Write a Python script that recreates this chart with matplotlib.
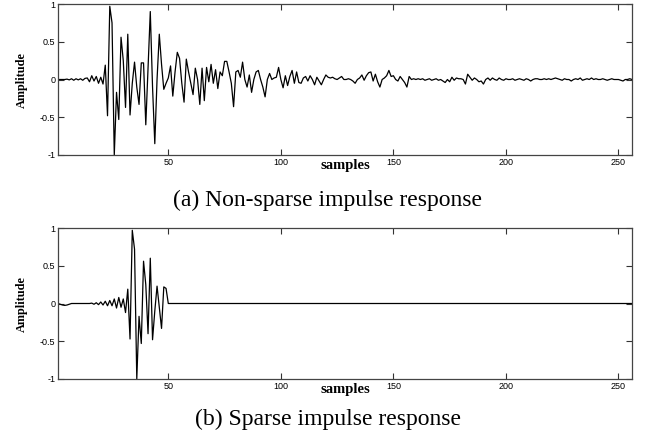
import numpy as np
import matplotlib
matplotlib.use("Agg")
from matplotlib import pyplot as plt

# non-sparse impulse response, samples 1..256
nonsparse_1_50 = [
    0.0, 0.0, 0.0, 0.0, 0.005, -0.005, 0.01, -0.01, 0.01, -0.005,
    0.01, -0.01, 0.015, 0.02, -0.03, 0.05, -0.02, 0.04, -0.05, 0.03,
    -0.06, 0.19, -0.48, 0.97, 0.75, -1.0, -0.17, -0.53, 0.56, 0.25,
    -0.37, 0.6, -0.47, -0.05, 0.23, -0.1, -0.33, 0.22, 0.22, -0.6,
    0.15, 0.9, -0.1, -0.85, 0.0, 0.6, 0.2, -0.13, -0.05, 0.02,
]
nonsparse_51_100 = [
    0.18, -0.22, 0.1, 0.36, 0.28, -0.05, -0.3, 0.27, 0.1, -0.05,
    -0.2, 0.15, 0.0, -0.33, 0.15, -0.28, 0.16, -0.03, 0.2, -0.05,
    0.13, -0.12, 0.1, 0.05, 0.24, 0.24, 0.1, -0.05, -0.36, 0.1,
    0.12, 0.03, 0.23, 0.0, -0.1, 0.06, -0.17, 0.0, 0.1, 0.12,
    0.0, -0.1, -0.23, 0.0, 0.08, 0.0, 0.02, 0.03, 0.16, 0.0,
]
nonsparse_101_150 = [
    -0.11, 0.05, -0.08, 0.04, 0.12, -0.05, 0.1, -0.04, -0.05, 0.02,
    0.04, -0.02, 0.05, 0.0, -0.07, 0.03, -0.02, -0.07, 0.0, 0.06,
    0.03, 0.02, 0.03, 0.01, 0.0, 0.02, 0.04, 0.0, 0.0, 0.01,
    0.0, -0.02, -0.05, 0.0, 0.02, 0.06, -0.01, 0.05, 0.09, 0.1,
    -0.02, 0.07, -0.03, -0.1, 0.0, 0.02, 0.05, 0.12, 0.04, 0.05,
]
nonsparse_151_200 = [
    0.0, -0.02, 0.04, 0.0, -0.04, -0.1, 0.04, 0.0, 0.01, 0.0,
    0.01, 0.0, 0.01, -0.01, 0.0, 0.01, -0.01, 0.0, 0.01, -0.01,
    0.0, -0.02, -0.04, 0.0, -0.03, 0.03, -0.01, 0.02, 0.01, 0.01,
    0.0, -0.06, 0.07, 0.03, -0.01, 0.02, 0.0, -0.03, -0.02, -0.06,
    0.0, 0.02, -0.01, 0.02, 0.0, -0.01, 0.02, 0.0, -0.01, 0.01,
]
nonsparse_201_256 = [
    0.0, 0.0, 0.01, -0.01, 0.0, 0.01, 0.0, -0.01,
    0.01, 0.0, -0.02, 0.0, 0.01, 0.01, 0.0, 0.0,
    0.01, 0.0, 0.01, 0.0, 0.01, 0.02, 0.01, 0.0,
    -0.01, 0.01, 0.0, 0.0, -0.02, 0.0, 0.01, 0.0,
    0.02, -0.01, 0.0, 0.01, 0.0, 0.02, 0.0, 0.01,
    0.0, 0.0, 0.01, 0.0, -0.01, 0.0, 0.01, 0.0,
    0.0, 0.0, -0.01, -0.02, 0.0, 0.0, 0.01, 0.0,
]

# sparse impulse response: active part, then flat zero up to 256
sparse_1_50 = [
    0.0, -0.01, -0.02, -0.025, -0.02, -0.01, 0.0, 0.0, 0.0, 0.0,
    0.0, 0.0, 0.0, 0.0, 0.0, 0.005, -0.01, 0.01, -0.015, 0.02,
    -0.02, 0.03, -0.03, 0.04, -0.03, 0.06, -0.06, 0.08, -0.05, 0.06,
    -0.12, 0.19, -0.47, 0.97, 0.72, -1.0, -0.17, -0.53, 0.56, 0.25,
    -0.4, 0.6, -0.48, -0.1, 0.23, -0.05, -0.33, 0.22, 0.2, 0.0,
]
sparse_51_256 = [0.0] * 206

x_ticks = [50, 100, 150, 200, 250]
y_ticks = [-1, -0.5, 0, 0.5, 1]
y_ticklabels = ["-1", "-0.5", "0", "0.5", "1"]
captions = ["(a) Non-sparse impulse response", "(b) Sparse impulse response"]

nonsparse = np.array(nonsparse_1_50 + nonsparse_51_100 + nonsparse_101_150
                     + nonsparse_151_200 + nonsparse_201_256)
sparse = np.array(sparse_1_50 + sparse_51_256)
samples = np.arange(1, len(nonsparse) + 1)

SERIF = "Liberation Serif"
SANS = "Liberation Sans"
W, H = 654, 441


def style_axes(ax):
    ax.set_xlim(1, 256)
    ax.set_ylim(-1, 1)
    ax.set_xticks(x_ticks)
    ax.set_xticklabels([str(t) for t in x_ticks], fontfamily=SANS, fontsize=6.5)
    ax.set_yticks(y_ticks)
    ax.set_yticklabels(y_ticklabels, fontfamily=SANS, fontsize=6.5)
    ax.tick_params(direction="in", top=True, right=True, length=4,
                   width=0.8, pad=2, color="#333333")
    for sp in ax.spines.values():
        sp.set_linewidth(0.9)
        sp.set_color("#444444")
    ax.set_xlabel("samples", fontfamily=SERIF, fontweight="bold", fontsize=10.5)
    ax.xaxis.set_label_coords(0.5, -0.028)
    ax.set_ylabel("Amplitude", fontfamily=SERIF, fontweight="bold", fontsize=8.8)
    ax.yaxis.set_label_coords(-0.053, 0.5)


fig = plt.figure(figsize=(W / 100, H / 100), dpi=100)
ax_top = fig.add_axes([58 / W, 1 - 155 / H, 574 / W, 151 / H])
ax_bot = fig.add_axes([58 / W, 1 - 379 / H, 574 / W, 151 / H])

ax_top.plot(samples, nonsparse, color="black", linewidth=0.9)
ax_bot.plot(samples, sparse, color="black", linewidth=0.9)

for ax in (ax_top, ax_bot):
    style_axes(ax)

fig.text(328 / W, 1 - 200 / H, captions[0], ha="center", va="center",
         fontfamily=SERIF, fontsize=17)
fig.text(328 / W, 1 - 419 / H, captions[1], ha="center", va="center",
         fontfamily=SERIF, fontsize=17)

fig.savefig("out.png", dpi=100)
